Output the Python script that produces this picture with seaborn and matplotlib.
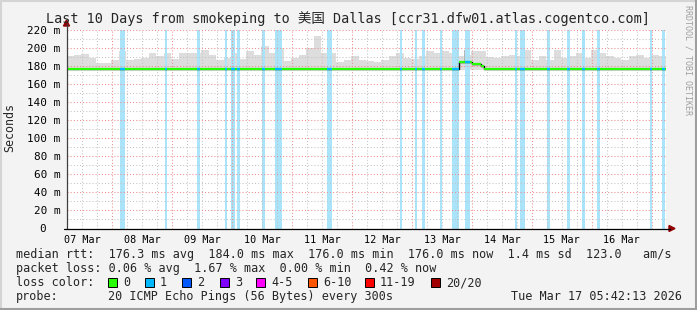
import numpy as np
import pandas as pd
import matplotlib
matplotlib.use("Agg")
import matplotlib.pyplot as plt
import matplotlib.dates as mdates
from matplotlib.ticker import MultipleLocator, FuncFormatter, NullFormatter
from matplotlib.patches import Rectangle, Polygon
from matplotlib.lines import Line2D
import seaborn as sns

# ---------------- data ----------------
start_time = "2026-03-07 05:42"
span_hours = 240

# smoke (max of the 20 pings), one value per 3-hour bin, in ms
smoke_step_hours = 3
smoke_top = [190.5, 192.3, 193.0, 188.7, 183.0, 183.0, 186.8, 196.0, 186.8, 187.5,
             188.7, 193.5, 190.5, 194.2, 187.5, 193.5, 193.5, 194.2, 197.8, 192.3,
             186.8, 188.7, 194.2, 187.5, 196.0, 192.3, 202.0, 194.2, 199.6, 185.0,
             188.7, 192.3, 199.6, 213.0, 193.5, 194.2, 184.0, 186.8, 190.5, 186.8,
             185.0, 184.0, 186.8, 191.2, 194.2, 188.7, 187.5, 191.2, 196.0, 194.2,
             196.0, 193.5, 190.5, 192.3, 196.0, 196.0, 189.8, 188.7, 190.5, 192.3,
             190.5, 197.8, 186.8, 190.5, 186.8, 197.8, 188.7, 190.5, 194.2, 188.7,
             197.8, 194.2, 190.5, 188.7, 186.8, 190.5, 192.3, 188.7, 192.3, 190.5]
smoke_low = 175.0

# darker smoke spike
dark_spike_hour = [159.4]
dark_spike_top = [197.0]

# median rtt (ms), step changes in hours from start
median_change_hours = [0.0, 157.3, 162.3, 166.0, 167.3]
median_ms = [176.0, 184.0, 182.0, 180.0, 176.0]

# periods with 1/20 packet loss (hours from start)
loss_start = [21.6, 39.6, 52.4, 63.6, 65.7, 68.4, 78.3, 83.6, 104.3, 133.6, 139.6,
              142.4, 149.6, 154.4, 159.6, 179.7, 181.6, 192.4, 200.4, 206.4, 212.4,
              233.7, 238.4]
loss_end = [23.6, 40.3, 53.6, 64.3, 67.5, 69.6, 79.6, 86.3, 106.4, 134.3, 140.3,
            143.5, 150.3, 157.3, 161.6, 180.3, 183.5, 193.5, 201.5, 207.5, 213.5,
            234.3, 239.6]

loss_labels = ["0", "1", "2", "3", "4-5", "6-10", "11-19", "20/20"]
loss_colors = ["#26ff00", "#00b8ff", "#0059ff", "#7e00ff", "#ff00ff", "#ff5500",
               "#ff0000", "#a10000"]

title = "Last 10 Days from smokeping to 美国 Dallas [ccr31.dfw01.atlas.cogentco.com]"
legend_rtt = "median rtt:  176.3 ms avg  184.0 ms max  176.0 ms min  176.0 ms now  1.4 ms sd  123.0   am/s"
legend_loss = "packet loss: 0.06 % avg  1.67 % max  0.00 % min  0.42 % now"
probe_text = "20 ICMP Echo Pings (56 Bytes) every 300s"
date_text = "Tue Mar 17 05:42:13 2026"

# ---------------- style ----------------
sns.set_style("white")
MONO = ["DejaVu Sans Mono", "Noto Sans CJK SC"]
plt.rcParams["font.family"] = MONO

W, H = 697, 310
def fx(px):
    return px / W
def fy(py):
    return 1 - py / H

fig = plt.figure(figsize=(W / 100, H / 100), dpi=100)
fig.patch.set_facecolor("#f3f3f3")
ax = fig.add_axes([fx(66.5), fy(228.5), (666 - 66.5) / W, 199 / H])
ax.set_facecolor("white")

t0 = pd.Timestamp(start_time)
to_time = lambda h: t0 + pd.to_timedelta(np.asarray(h, dtype=float), unit="h")
t_end = to_time(span_hours)

# smoke
smoke_t = to_time(np.arange(len(smoke_top)) * smoke_step_hours)
smoke_x = list(smoke_t) + [t_end]
smoke_y = list(smoke_top) + [smoke_top[-1]]
ax.fill_between(smoke_x, smoke_low, smoke_y, step="post", color="#dddddd", lw=0, zorder=1)
med_at = lambda h: median_ms[np.searchsorted(median_change_hours, h, side="right") - 1]
ax.vlines(to_time(dark_spike_hour), [med_at(h) for h in dark_spike_hour], dark_spike_top,
          color="#a8a8a8", lw=1.2, zorder=1.2)

# loss bands
for s, e in zip(loss_start, loss_end):
    ax.axvspan(to_time(s), to_time(e), color="#aae4fa", lw=0, zorder=1.5)

# median (black step, then colored segments)
med_df = pd.DataFrame({"time": list(to_time(median_change_hours)) + [t_end],
                       "rtt": median_ms + [median_ms[-1]]})
sns.lineplot(data=med_df, x="time", y="rtt", drawstyle="steps-post", color="black",
             lw=1.0, ax=ax, zorder=3, legend=False)
bounds = median_change_hours + [span_hours]
for i, v in enumerate(median_ms):
    ax.hlines(v, to_time(bounds[i]), to_time(bounds[i + 1]), color=loss_colors[0],
              lw=1.6, zorder=3.2)
for s, e in zip(loss_start, loss_end):
    idx = np.searchsorted(median_change_hours, s, side="right") - 1
    e2 = min(e, bounds[idx + 1])
    ax.hlines(median_ms[idx], to_time(s), to_time(e2), color=loss_colors[1], lw=1.6, zorder=3.3)

ax.set_xlim(t0, t_end)
ax.set_ylim(0, 220)
ax.set_xlabel("")
ax.set_ylabel("")

# grid / ticks
ax.set_axisbelow(False)
ax.yaxis.set_major_locator(MultipleLocator(20))
ax.yaxis.set_minor_locator(MultipleLocator(10))
ax.yaxis.set_major_formatter(FuncFormatter(lambda v, p: "0  " if v == 0 else f"{v:.0f} m"))
ax.xaxis.set_major_locator(mdates.HourLocator(byhour=[0]))
ax.xaxis.set_minor_locator(mdates.HourLocator(byhour=[0, 6, 12, 18]))
ax.xaxis.set_major_formatter(NullFormatter())
ax.xaxis.set_minor_formatter(FuncFormatter(
    lambda v, p: mdates.num2date(v).strftime("%d %b") if mdates.num2date(v).hour == 12 else ""))
dots = (0, (1, 2))
ax.grid(which="major", color="#f08c8c", lw=0.75, ls=dots)
ax.grid(which="minor", color="#c4c4c4", lw=0.75, ls=dots)
ax.tick_params(which="major", length=2.5, width=0.75, color="#e07070", direction="out")
ax.tick_params(which="minor", length=2, width=0.75, color="#b8b8b8", direction="out")
ax.tick_params(axis="x", which="both", pad=2.5, labelsize=7.3, labelcolor="black")
ax.tick_params(axis="y", which="both", pad=2, labelsize=7.9, labelcolor="black")
for sp in ax.spines.values():
    sp.set_visible(False)

# axis lines and arrows
fig.add_artist(Line2D([fx(66.5), fx(66.5)], [fy(228.5), fy(24)], color="#404040", lw=0.9))
fig.add_artist(Line2D([fx(64), fx(670)], [fy(228.5), fy(228.5)], color="black", lw=0.9))
fig.add_artist(Polygon([[fx(66.5), fy(20)], [fx(63.5), fy(26)], [fx(69.5), fy(26)]],
                       closed=True, color="#900000", transform=fig.transFigure))
fig.add_artist(Polygon([[fx(675), fy(228.5)], [fx(669), fy(225.5)], [fx(669), fy(231.5)]],
                       closed=True, color="#900000", transform=fig.transFigure))

# frame shading
fig.add_artist(Line2D([0, 1], [fy(0.5), fy(0.5)], color="#d4d4d4", lw=1.5))
fig.add_artist(Line2D([fx(0.5), fx(0.5)], [0, 1], color="#d4d4d4", lw=1.5))
fig.add_artist(Line2D([0, 1], [fy(309), fy(309)], color="#9e9e9e", lw=1.5))
fig.add_artist(Line2D([fx(696), fx(696)], [0, 1], color="#9e9e9e", lw=1.5))

# texts
fig.text(fx(348), fy(19), title, ha="center", va="center", size=9.75, family=MONO)
fig.text(fx(10), fy(128), "Seconds", rotation=90, ha="center", va="center", size=8.4)
fig.text(fx(688), fy(5), "RRDTOOL / TOBI OETIKER", rotation=-90, ha="center", va="top",
         size=6, color="#a0a0a0")

LS = 8.5
fig.text(fx(16), fy(254.5), legend_rtt, ha="left", va="center", size=LS)
fig.text(fx(16), fy(268.5), legend_loss, ha="left", va="center", size=LS)
fig.text(fx(16), fy(282.5), "loss color:", ha="left", va="center", size=LS)
sq_x = [108, 145, 182, 220, 256, 308, 365, 431]
for x, lab, col in zip(sq_x, loss_labels, loss_colors):
    fig.add_artist(Rectangle((fx(x), fy(287)), 9 / W, 9 / H, facecolor=col,
                             edgecolor="black", lw=0.7, transform=fig.transFigure))
    fig.text(fx(x + 15), fy(282.5), lab, ha="left", va="center", size=LS)
fig.text(fx(16), fy(296.5), "probe:", ha="left", va="center", size=LS)
fig.text(fx(108), fy(296.5), probe_text, ha="left", va="center", size=LS)
fig.text(fx(682), fy(296.5), date_text, ha="right", va="center", size=LS)

fig.savefig("out.png", dpi=100, facecolor=fig.get_facecolor())
